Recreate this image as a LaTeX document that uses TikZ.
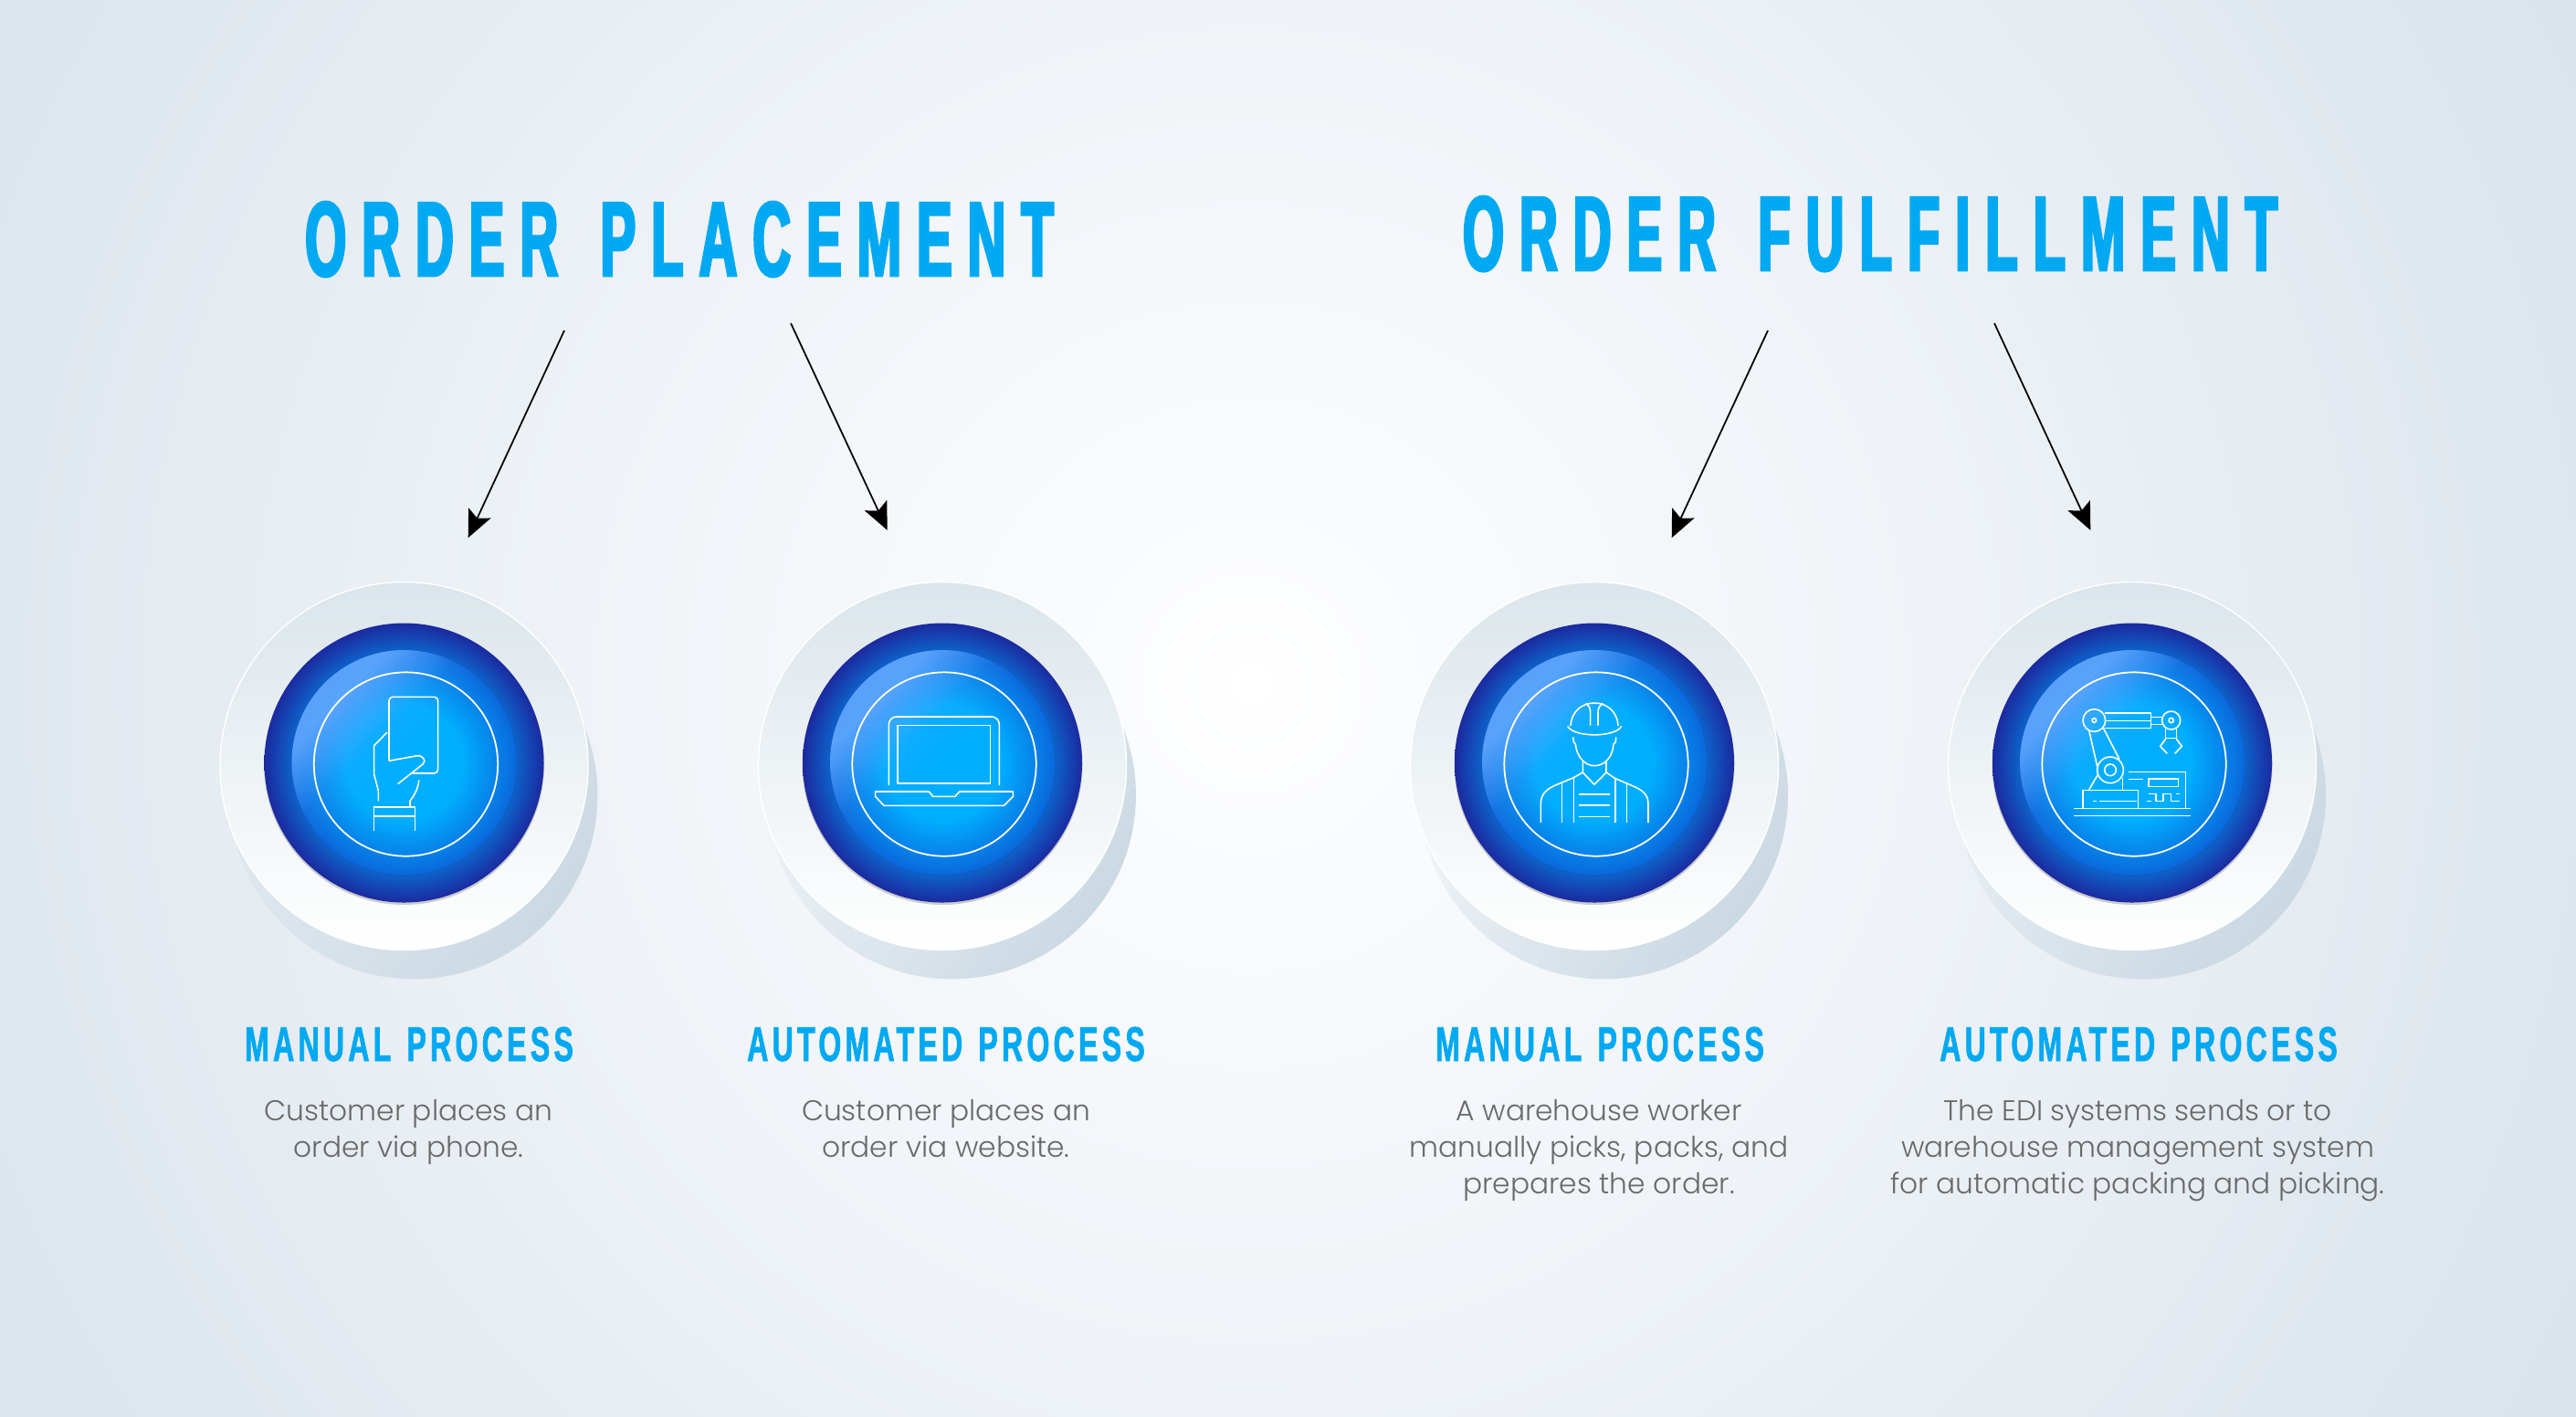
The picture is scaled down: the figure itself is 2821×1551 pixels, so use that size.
\documentclass[tikz,border=0pt]{standalone}
\usepackage{fontspec}
\usetikzlibrary{arrows.meta,fadings}
\setmainfont{Poppins}[UprightFont=* Light]
\newfontfamily\headfont{Liberation Sans Bold}[FakeStretch=0.5,FakeBold=2.5,LetterSpace=14.6,WordSpace=1.4]
\newfontfamily\subfont{Liberation Sans Bold}[FakeStretch=0.6,FakeBold=1.2,LetterSpace=8,WordSpace=1.3]
\definecolor{headblue}{HTML}{00A9F1}
\definecolor{bodygrey}{HTML}{696969}
\definecolor{bg0}{HTML}{FFFFFF}\definecolor{bg1}{HTML}{FBFCFE}\definecolor{bg2}{HTML}{EFF3F7}\definecolor{bg3}{HTML}{E0E8EF}\definecolor{bg4}{HTML}{D9E4EC}
\pgfdeclareradialshading{pagebg}{\pgfpoint{0bp}{0bp}}{color(0bp)=(bg0);color(2.3bp)=(bg1);color(11.5bp)=(bg2);color(21bp)=(bg3);color(25bp)=(bg4);color(50bp)=(bg4)}
\definecolor{rimA}{HTML}{0E5EC6}\definecolor{rimB}{HTML}{1B2A9F}
\pgfdeclareradialshading{rimshade}{\pgfpoint{0bp}{0bp}}{color(0bp)=(rimA);color(20.5bp)=(rimA);color(25bp)=(rimB);color(50bp)=(rimB)}
\definecolor{coreA}{HTML}{00AEFF}\definecolor{coreB}{HTML}{0A68DC}
\pgfdeclareradialshading{coreshade}{\pgfpoint{0bp}{0bp}}{color(0bp)=(coreA);color(13bp)=(coreA);color(25bp)=(coreB);color(50bp)=(coreB)}
\pgfdeclareverticalshading{hlgrad}{100bp}{color(0bp)=(black);color(50bp)=(black);color(58bp)=(black!88);color(70bp)=(black!10);color(100bp)=(black!10)}
\pgfdeclarefading{hlfade}{\pgfuseshading{hlgrad}}
\tikzfading[name=shfade,top color=transparent!0,middle color=transparent!78,bottom color=transparent!100]
\definecolor{shadowc}{HTML}{CBD9E3}
\definecolor{rimtop}{HTML}{DBE5EB}
\definecolor{hlc}{HTML}{62A8FF}
\tikzset{
  headtext/.style={text=headblue,anchor=base,inner sep=0pt,font=\headfont\fontsize{33}{33}\selectfont},
  subtext/.style={text=headblue,anchor=base,inner sep=0pt,font=\subfont\fontsize{15.2}{15.2}\selectfont},
  bodytext/.style={text=bodygrey,anchor=north,inner sep=0pt,align=center,font=\fontsize{8.9}{11.34}\selectfont},
  iconline/.style={draw=white,line width=.45pt,line join=round},
  pointer/.style={draw=black,line width=.5pt,-{Stealth[length=8.5pt,width=7.6pt,inset=1.8pt]}},
}
\newcommand{\stagedisc}[1]{%
  \begin{scope}[shift={(#1,0)}]
    \fill[fill=shadowc,path fading=shfade,fading angle=-125] (10.5,871) circle[radius=201.5];
    \shade[top color=rimtop,bottom color=white] (0,839) circle[radius=201.5];
    \draw[white,line width=.4pt] (0,839) circle[radius=201.5];
    \fill[black!50!gray,opacity=.25] (0,837.5) circle[radius=153.5];
    \shade[shading=rimshade] (0,835.5) circle[radius=153];
    \shade[shading=coreshade] (0,835) circle[radius=123];
    \fill[fill=hlc,path fading=hlfade,fading angle=45] (0,835) circle[radius=123];
    \draw[white,line width=.5pt] (2,837) circle[radius=100.7];
  \end{scope}}
\begin{document}
\begin{tikzpicture}[x=0.1mm,y=-0.1mm]
\useasboundingbox (0,0) rectangle (2821,1551);
\begin{scope}
  \clip (0,0) rectangle (2821,1551);
  \shade[shading=pagebg] (-250,-870) rectangle (2990,2370);
\end{scope}

\stagedisc{442.5}
\stagedisc{1032}
\stagedisc{1746}
\stagedisc{2335}

% hand and card
\begin{scope}[shift={(220,620)},scale=0.33333]
  \draw[iconline,rounded corners=1.2pt] (618,640) -- (618,430) -- (779,430) -- (779,681) -- (695,681);
  \draw[iconline] (612,546) -- (569,590) -- (569,685) -- (583,738) -- (583,772);
  \draw[iconline] (618,640) -- (712,623) .. controls (728,621) and (742,640) .. (730,650) -- (647,716);
  \draw[iconline] (716,703) .. controls (715,730) and (700,755) .. (687,772) -- (687,790);
  \draw[iconline] (568,870) -- (568,792) -- (703,792) -- (703,870);
  \draw[iconline] (568,822) -- (703,822);
\end{scope}

% laptop
\begin{scope}[shift={(810,620)},scale=0.33333]
  \draw[iconline,rounded corners=2.4pt] (490,720) -- (490,495) -- (853,495) -- (853,720);
  \draw[iconline] (519,524) rectangle (824,714);
  \draw[iconline] (446,741) -- (622,741) -- (635,757) -- (708,757) -- (722,741) -- (898,741) -- (898,757) -- (868,787) -- (474,787) -- (446,757) -- cycle;
\end{scope}

% worker
\begin{scope}[shift={(1560,720)},scale=0.33333]
  \draw[iconline] (480,225) .. controls (482,180) and (515,150) .. (558,150) .. controls (601,150) and (634,180) .. (636,225);
  \draw[iconline] (470,226) .. controls (490,264) and (627,264) .. (647,226);
  \draw[iconline] (545,224) -- (545,180) .. controls (545,168) and (540,158) .. (530,151);
  \draw[iconline] (570,224) -- (570,180) .. controls (570,168) and (575,158) .. (586,151);
  \draw[iconline] (488,262) -- (490,278) -- (496,285) .. controls (500,330) and (530,356) .. (558,356) .. controls (590,356) and (618,330) .. (621,285) -- (628,278) -- (629,262);
  \draw[iconline] (520,343) -- (520,378) -- (558,418) -- (597,378) -- (597,343);
  \draw[iconline] (520,378) -- (490,395) -- (430,420) .. controls (395,435) and (382,455) .. (382,480) -- (382,543);
  \draw[iconline] (597,378) -- (625,397) -- (690,425) .. controls (725,440) and (735,460) .. (735,480) -- (735,543);
  \draw[iconline] (452,412) -- (452,543);
  \draw[iconline] (490,395) -- (490,543);
  \draw[iconline] (627,397) -- (627,543);
  \draw[iconline] (664,412) -- (664,543);
  \draw[iconline] (508,450) -- (608,450);
  \draw[iconline] (508,486) -- (608,486);
  \draw[iconline] (508,524) -- (608,524);
\end{scope}

% robot arm
\begin{scope}[shift={(2200,720)},scale=0.33333]
  \draw[iconline] (280,207) circle[radius=37];
  \draw[iconline] (280,207) circle[radius=7];
  \draw[iconline] (533,207) circle[radius=30];
  \draw[iconline] (533,207) circle[radius=8];
  \draw[iconline] (315,183) -- (467,183) -- (467,232) -- (315,232);
  \draw[iconline] (317,208) -- (467,208);
  \draw[iconline] (467,196) -- (503,196);
  \draw[iconline] (467,220) -- (503,220);
  \draw[iconline] (515,235) -- (515,266) -- (550,266) -- (550,235);
  \draw[iconline] (515,268) -- (497,292) -- (520,316);
  \draw[iconline] (550,268) -- (568,292) -- (545,316);
  \draw[iconline] (263,240) -- (291,362);
  \draw[iconline] (310,232) -- (363,335);
  \draw[iconline] (333,370) circle[radius=43];
  \draw[iconline] (333,370) circle[radius=19];
  \draw[iconline] (292,385) -- (263,435);
  \draw[iconline] (373,395) -- (373,435);
  \draw[iconline] (243,495) -- (243,436) -- (425,436) -- (425,495);
  \draw[iconline] (275,472) -- (287,472);
  \draw[iconline] (298,472) -- (420,472);
  \draw[iconline] (393,376) -- (581,376) -- (581,495);
  \draw[iconline] (393,400) -- (442,400);
  \draw[iconline] (459,399) rectangle (557,425);
  \draw[iconline] (453,473) -- (467,473);
  \draw[iconline] (458,448) -- (483,448) -- (483,473) -- (507,473) -- (507,448) -- (533,448) -- (533,473) -- (560,473);
  \draw[iconline] (550,448) -- (562,448);
  \draw[iconline] (214,496) -- (598,496);
  \draw[iconline] (214,520) -- (598,520);
\end{scope}

% titles
\node[headtext] (titleA) at (744,302) {ORDER PLACEMENT};
\node[headtext] (titleB) at (2048,296) {ORDER FULFILLMENT};

% arrows
\coordinate (a1s) at (618,362);   \coordinate (a1e) at (512.7,589);
\coordinate (a2s) at (866,354);   \coordinate (a2e) at (971.7,580.7);
\coordinate (a3s) at (1936,362);  \coordinate (a3e) at (1830.7,589);
\coordinate (a4s) at (2184,354);  \coordinate (a4e) at (2289.3,580.7);
\draw[pointer] (a1s) -- (a1e);
\draw[pointer] (a2s) -- (a2e);
\draw[pointer] (a3s) -- (a3e);
\draw[pointer] (a4s) -- (a4e);

% column labels
\node[subtext] (sub1) at (448,1162) {MANUAL PROCESS};
\node[subtext] (sub2) at (1036,1162) {AUTOMATED PROCESS};
\node[subtext] (sub3) at (1752,1162) {MANUAL PROCESS};
\node[subtext] (sub4) at (2342,1162) {AUTOMATED PROCESS};

\node[bodytext] (txt1) at (447.5,1204) {Customer places an\\order via phone.};
\node[bodytext] (txt2) at (1036,1204) {Customer places an\\order via website.};
\node[bodytext] (txt3) at (1751,1204) {A warehouse worker\\manually picks, packs, and\\prepares the order.};
\node[bodytext] (txt4) at (2341,1204) {The EDI systems sends or to\\warehouse management system\\for automatic packing and picking.};
\end{tikzpicture}
\end{document}
